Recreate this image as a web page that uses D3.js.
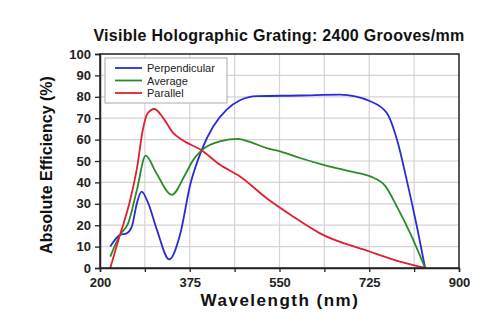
<!DOCTYPE html>
<html><head><meta charset="utf-8">
<script src="https://cdn.jsdelivr.net/npm/d3@7"></script>
<style>body{margin:0;background:#fff}svg{display:block;font-family:Arial,"Liberation Sans",sans-serif}</style>
</head><body>
<svg id="c" width="500" height="334"></svg>
<script>
const title = "Visible Holographic Grating: 2400 Grooves/mm";
const xLabel = "Wavelength (nm)";
const yLabel = "Absolute Efficiency (%)";
const xTicks = [200, 375, 550, 725, 900];
const yTicks = [0,10,20,30,40,50,60,70,80,90,100];
const seriesNames = ["Perpendicular", "Average", "Parallel"];
const seriesColors = ["#2b2bd6", "#2a8a2a", "#e02030"];

const perpWl  = [220,239,252,262,272,281,294,311,335,356,376,398,421,447,473,506,590,668,727,759,779,798,818,834];
const perpVal = [10,15.5,16.2,19.3,30.3,35.7,30.3,17.8,4,15.5,39,55,66.2,74,78.4,80.3,80.6,81,77.9,72.5,60,41.2,19.3,0];
const avgWl   = [220,239,255,272,289,310,340,366,382,398,434,470,489,525,551,590,636,688,727,756,779,805,834];
const avgVal  = [5.3,15.5,21,36.5,52.5,44.3,34.2,43.6,50.6,55,59.2,60.3,59.2,56,54.5,51.4,48.2,45.1,42.8,38.4,28.7,16.2,0];
const parWl   = [220,239,257,273,283,292,306,322,343,359,398,434,473,525,577,629,727,785,834];
const parVal  = [0,15.5,30,48,64,72,74.3,70.5,63,60,55,48.2,42.8,32.6,24,16.2,7.6,3,0];

const series = [
  {name: seriesNames[0], wl: perpWl, val: perpVal, color: seriesColors[0]},
  {name: seriesNames[1], wl: avgWl, val: avgVal, color: seriesColors[1]},
  {name: seriesNames[2], wl: parWl, val: parVal, color: seriesColors[2]}
];

const svg = d3.select("#c");
const L = 100, R = 459, T = 54, B = 268;
const x = d3.scaleLinear().domain([200, 900]).range([L, R]);
const y = d3.scaleLinear().domain([0, 100]).range([B, T]);

// grid
const gridX = d3.range(200, 900.1, 87.5);
svg.append("g").selectAll("line").data(gridX.slice(1, -1)).join("line")
  .attr("x1", d => x(d)).attr("x2", d => x(d)).attr("y1", T).attr("y2", B)
  .attr("stroke", "#d4d4d4").attr("stroke-width", 1.2);
svg.append("g").selectAll("line").data(yTicks.slice(1, -1)).join("line")
  .attr("x1", L).attr("x2", R).attr("y1", d => y(d)).attr("y2", d => y(d))
  .attr("stroke", "#d4d4d4").attr("stroke-width", 1.2);

// lines
const line = d3.line().curve(d3.curveMonotoneX);
svg.append("g").selectAll("path").data(series).join("path")
  .attr("d", s => line(s.wl.map((w, i) => [x(w), y(s.val[i])])))
  .attr("fill", "none").attr("stroke", s => s.color).attr("stroke-width", 1.8);

// frame
svg.append("rect").attr("x", L).attr("y", T).attr("width", R - L).attr("height", B - T)
  .attr("fill", "none").attr("stroke", "#222").attr("stroke-width", 1.5);

// axes
const xAxis = d3.axisBottom(x).tickValues(gridX).tickSize(4)
  .tickFormat(d => xTicks.includes(d) ? d : "");
const gx = svg.append("g").attr("transform", `translate(0,${B})`).call(xAxis);
gx.select(".domain").attr("stroke", "#222").attr("stroke-width", 1.5);
gx.selectAll(".tick line").attr("stroke", "#222").attr("stroke-width", 1.3);
gx.selectAll(".tick text").attr("font-size", 13).attr("font-weight", "bold").attr("fill", "#222").attr("dy", "0.95em")
  .attr("font-family", "Arial, 'Liberation Sans', sans-serif");

const yAxis = d3.axisLeft(y).tickValues(yTicks).tickSize(5);
const gy = svg.append("g").attr("transform", `translate(${L},0)`).call(yAxis);
gy.select(".domain").attr("stroke", "#222").attr("stroke-width", 1.5);
gy.selectAll(".tick line").attr("stroke", "#222").attr("stroke-width", 1.3);
gy.selectAll(".tick text").attr("font-size", 13).attr("font-weight", "bold").attr("fill", "#222").attr("x", -9)
  .attr("font-family", "Arial, 'Liberation Sans', sans-serif");

// legend
const lg = svg.append("g");
lg.append("rect").attr("x", 105).attr("y", 58).attr("width", 122).attr("height", 45)
  .attr("fill", "#fff").attr("stroke", "#aaa").attr("stroke-width", 1);
series.forEach((s, i) => {
  const yy = 68 + i * 12.5;
  lg.append("line").attr("x1", 115).attr("x2", 142).attr("y1", yy).attr("y2", yy)
    .attr("stroke", s.color).attr("stroke-width", 1.8);
  lg.append("text").attr("x", 147).attr("y", yy + 4).attr("font-size", 11).attr("fill", "#222").text(s.name);
});

// titles
svg.append("text").attr("x", 279).attr("y", 41).attr("text-anchor", "middle")
  .attr("font-size", 16).attr("font-weight", "bold").attr("letter-spacing", 0.3).attr("fill", "#111").text(title);
svg.append("text").attr("x", 280).attr("y", 306).attr("text-anchor", "middle")
  .attr("font-size", 17).attr("font-weight", "bold").attr("letter-spacing", 1.5).attr("fill", "#111").text(xLabel);
svg.append("text").attr("transform", "translate(52,165) rotate(-90)").attr("text-anchor", "middle")
  .attr("font-size", 16).attr("font-weight", "bold").attr("fill", "#111").text(yLabel);
</script>
</body></html>
